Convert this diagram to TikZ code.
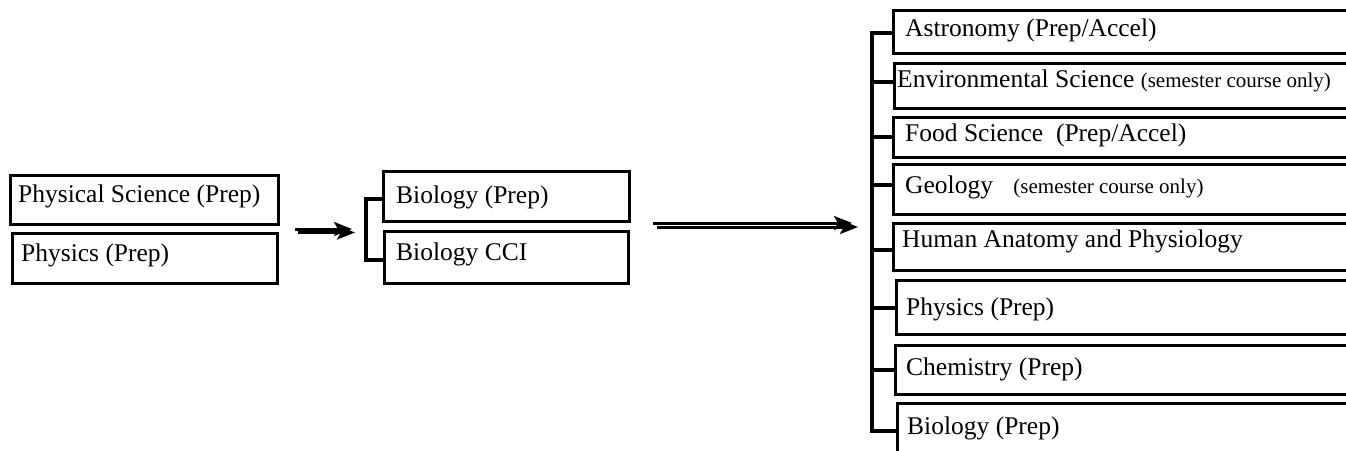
\documentclass[tikz,border=0pt]{standalone}
\usepackage{fontspec}
\setmainfont{Liberation Serif}
\usetikzlibrary{arrows.meta}
\definecolor{shade}{RGB}{150,150,150}
\tikzset{
  course/.style={draw=black, line width=2.8pt, anchor=north west, inner sep=0pt},
  label/.style={anchor=base west, inner sep=0pt, font=\fontsize{25.5}{30}\selectfont},
  branch/.style={draw=black, line width=3.2pt},
  flow/.style={line width=3pt, -{Stealth[length=18pt,width=14pt,inset=4pt]}},
}
\newcommand{\smalltext}[1]{{\fontsize{21}{25}\selectfont #1}}
% a course box given by its name and two corners
\newcommand{\course}[5]{%
  \node[course, minimum width=#4-#2, minimum height=#5-#3] (#1) at (#2,#3) {};}
\begin{document}
\begin{tikzpicture}[x=1pt,y=-1pt]
\useasboundingbox (0,0) rectangle (1346,450);
\clip (0,0) rectangle (1346,450);

% first year
\course{ps}{9}{174}{277}{223}
\course{ph}{11}{232}{276}{282}
\node[label] (tps) at (18,202) {Physical Science (Prep)};
\node[label] (tph) at (21,261) {Physics (Prep)};

% second year
\course{bp}{382}{170}{628}{220}
\course{bc}{383}{230}{627}{282}
\node[label] (tbp) at (396,203) {Biology (Prep)};
\node[label] (tbc) at (396,260) {Biology CCI};

% electives
\course{ast}{892}{9}{1380}{52}
\course{env}{893}{62}{1380}{107}
\course{food}{892}{116}{1380}{156}
\course{geo}{892}{163}{1380}{213}
\course{hum}{892}{222}{1380}{269}
\course{phy}{895}{279}{1380}{333}
\course{chem}{894}{344}{1380}{393}
\course{bio}{896}{402}{1380}{480}
\node[label] (tast) at (905,36) {Astronomy (Prep/Accel)};
\node[label] (tenv) at (897,87) {Environmental Science \smalltext{(semester course only)}};
\node[label] (tfood) at (905,141) {Food Science\hspace{0.25em} (Prep/Accel)};
\node[label] (tgeo) at (905,193) {Geology\hspace{0.55em} \smalltext{(semester course only)}};
\node[label] (thum) at (902,247) {Human Anatomy and Physiology};
\node[label] (tphy) at (906,315) {Physics (Prep)};
\node[label] (tchem) at (906,375) {Chemistry (Prep)};
\node[label] (tbio) at (907,434) {Biology (Prep)};

% bracket joining the second-year courses
\coordinate (m1) at (366,199);
\coordinate (m2) at (366,260);
\draw[branch] (bp.west |- m1) -- (m1) -- (m2) -- (bc.west |- m2);

% bracket joining the electives
\coordinate (r1) at (872,33);
\coordinate (r2) at (872,82);
\coordinate (r3) at (872,137);
\coordinate (r4) at (872,185);
\coordinate (r5) at (872,250);
\coordinate (r6) at (872,308);
\coordinate (r7) at (872,370);
\coordinate (r8) at (872,431);
\draw[branch] (ast.west |- r1) -- (r1) -- (r8) -- (bio.west |- r8);
\draw[branch] (r2) -- (env.west |- r2);
\draw[branch] (r3) -- (food.west |- r3);
\draw[branch] (r4) -- (geo.west |- r4);
\draw[branch] (r5) -- (hum.west |- r5);
\draw[branch] (r6) -- (phy.west |- r6);
\draw[branch] (r7) -- (chem.west |- r7);

% arrows with a grey drop shadow
\coordinate (a1s) at (295,229);
\coordinate (a1e) at (352,229);
\coordinate (a1ss) at (298,232.5);
\coordinate (a1se) at (355,232.5);
\coordinate (a2s) at (653,223);
\coordinate (a2e) at (852,223);
\coordinate (a2ss) at (657,227);
\coordinate (a2se) at (858,227);
\draw[flow, shade] (a1ss) -- (a1se);
\draw[flow, black] (a1s) -- (a1e);
\draw[flow, shade] (a2ss) -- (a2se);
\draw[flow, black] (a2s) -- (a2e);
\end{tikzpicture}
\end{document}
